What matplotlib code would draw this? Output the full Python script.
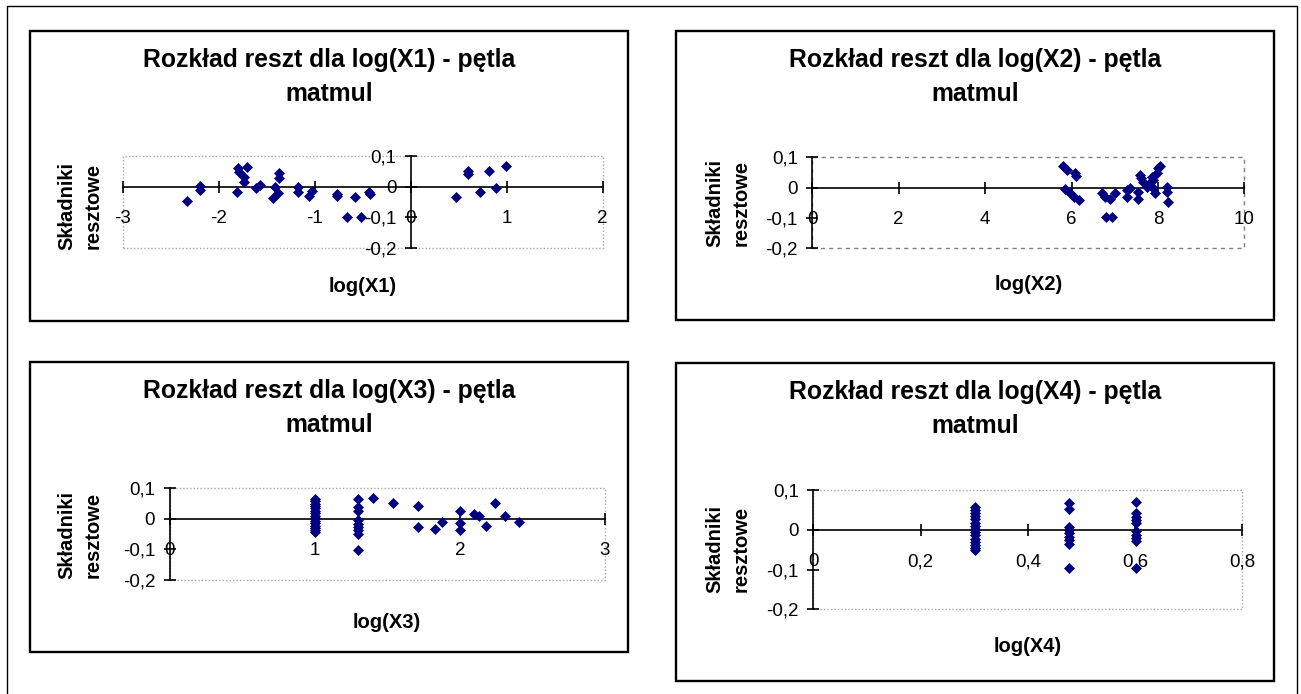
"""Residual plots for log(X1)..log(X4) of the matmul loop - four Excel-style panels."""
import matplotlib

matplotlib.use("Agg")
import matplotlib.pyplot as plt
from matplotlib.lines import Line2D
from matplotlib.patches import Rectangle
from matplotlib.ticker import FixedLocator, FuncFormatter

plt.rcParams["font.family"] = ["Liberation Sans", "DejaVu Sans"]

W, H = 1301, 694
NAVY = "#000080"

# --- data ------------------------------------------------------------------
log_x1 = [-2.33, -2.19, -2.19, -1.80, -1.71, -1.74, -1.74, -1.79, -1.81, -1.61,
          -1.57, -1.37, -1.37, -1.41, -1.38, -1.43, -1.17, -1.17, -1.06, -1.03,
          -0.77, -0.77, -0.58, -0.43, -0.42, -0.66, -0.52, 0.475, 0.60, 0.60,
          0.72, 0.82, 0.89, 0.995]
res_x1 = [-0.046, 0.003, -0.011, 0.059, 0.065, 0.032, 0.016, 0.048, -0.018, -0.005,
          0.005, 0.043, 0.027, 0.0, -0.020, -0.038, 0.0, -0.018, -0.032, -0.013,
          -0.024, -0.032, -0.034, -0.018, -0.024, -0.099, -0.099, -0.035, 0.050, 0.040,
          -0.019, 0.050, -0.005, 0.067]

log_x2 = [5.80, 5.90, 6.08, 6.10, 5.85, 5.96, 6.06, 6.18, 6.70, 6.77,
          6.89, 7.01, 6.81, 6.93, 7.28, 7.28, 7.35, 7.55, 7.55, 7.59,
          7.62, 7.66, 7.74, 7.82, 7.86, 7.89, 7.93, 7.97, 8.01, 8.05,
          7.89, 8.20, 8.22, 8.24]
res_x2 = [0.071, 0.058, 0.047, 0.038, -0.005, -0.019, -0.030, -0.041, -0.019, -0.030,
          -0.038, -0.019, -0.096, -0.096, -0.008, -0.030, -0.002, -0.038, -0.013, 0.042,
          0.031, 0.020, 0.003, 0.014, 0.036, 0.025, -0.019, 0.047, 0.064, 0.071,
          -0.002, 0.003, -0.013, -0.046]

log_x3 = [1.0, 1.0, 1.0, 1.0, 1.0, 1.0, 1.0, 1.0, 1.0, 1.0, 1.0, 1.0, 1.0, 1.0, 1.0,
          1.30, 1.30, 1.30, 1.30, 1.30, 1.30, 1.30, 1.30, 1.30,
          1.40, 1.54, 1.71, 1.71, 1.83, 1.88, 2.00, 2.00, 2.00, 2.10,
          2.13, 2.18, 2.24, 2.31, 2.41]
res_x3 = [0.066, 0.058, 0.050, 0.042, 0.034, 0.026, 0.018, 0.010, 0.002, -0.006,
          -0.014, -0.022, -0.030, -0.038, -0.044,
          0.065, 0.038, 0.025, -0.005, -0.016, -0.027, -0.038, -0.049, -0.101,
          0.068, 0.052, 0.042, -0.027, -0.033, -0.011, 0.027, -0.014, -0.035, 0.016,
          0.008, -0.022, 0.052, 0.011, -0.011]

log_x4 = [0.301, 0.301, 0.301, 0.301, 0.301, 0.301, 0.301, 0.301, 0.301, 0.301,
          0.301, 0.301, 0.301, 0.301, 0.301,
          0.477, 0.477, 0.477, 0.477, 0.477, 0.477, 0.477, 0.477, 0.477,
          0.602, 0.602, 0.602, 0.602, 0.602, 0.602, 0.602, 0.602, 0.602, 0.602]
res_x4 = [0.058, 0.050, 0.042, 0.034, 0.026, 0.018, 0.010, 0.002, -0.006, -0.014,
          -0.022, -0.030, -0.038, -0.045, -0.050,
          0.067, 0.052, 0.008, 0.0, -0.008, -0.017, -0.025, -0.035, -0.096,
          0.069, 0.042, 0.033, 0.025, 0.017, -0.004, -0.013, -0.021, -0.029, -0.096]

xticks = [
    [-3, -2, -1, 0, 1, 2],
    [0, 2, 4, 6, 8, 10],
    [0, 1, 2, 3],
    [0, 0.2, 0.4, 0.6, 0.8],
]
res_ticks = [-0.2, -0.1, 0, 0.1]

titles = [f"Rozkład reszt dla log(X{i}) - pętla\nmatmul" for i in range(1, 5)]
xlabels = [f"log(X{i})" for i in range(1, 5)]
ylabel = "Składniki\nresztowe"

# --- layout, in pixels with y measured from the top ---------------------------
panel_boxes = [(30, 31, 628, 321), (676, 31, 1274, 320),
               (30, 362, 628, 652), (676, 363, 1274, 681)]
plot_boxes = [(122.7, 155.7, 602.7, 248.3), (812.3, 157.3, 1244.3, 248.3),
              (169.5, 488.3, 605.0, 580.0), (813.3, 490.0, 1242.3, 609.3)]
xlabel_y = [286, 285, 622, 647]
ylabel_xy = [(80, 206), (728, 203), (80, 535), (728, 549)]
border_ls = [(0, (1, 1.5)), (0, (3, 3)), (0, (1, 1.5)), (0, (1, 1.5))]
border_col = ["#a8a8a8", "#808080", "#a8a8a8", "#a8a8a8"]


def comma(v, pos=None):
    if abs(v) < 1e-9:
        return "0"
    return f"{round(v, 2):g}".replace(".", ",")


def fig_rect(l, t, r, b):
    return [l / W, 1 - b / H, (r - l) / W, (b - t) / H]


def draw_panel(fig, i, xs, ys):
    pl, pt, pr, pb = panel_boxes[i]
    fig.add_artist(Rectangle((pl / W, 1 - pb / H), (pr - pl) / W, (pb - pt) / H,
                             transform=fig.transFigure, fill=False,
                             ec="black", lw=1.7))

    ax = fig.add_axes(fig_rect(*plot_boxes[i]))
    ax.patch.set_visible(False)
    ax.add_patch(Rectangle((0, 0), 1, 1, transform=ax.transAxes, fill=False,
                           ec=border_col[i], lw=1.0, ls=border_ls[i],
                           clip_on=False, zorder=0))
    ax.plot(xs, ys, "D", ms=5.5, color=NAVY, mec=NAVY, mew=0.5,
            clip_on=False, zorder=3)

    ticks = xticks[i]
    ax.set_xlim(ticks[0], ticks[-1])
    ax.set_ylim(res_ticks[0], res_ticks[-1])

    for side in ("top", "right"):
        ax.spines[side].set_visible(False)
    ax.spines["left"].set_position(("data", 0))
    ax.spines["bottom"].set_position(("data", 0))
    for side in ("left", "bottom"):
        ax.spines[side].set_linewidth(1.2)

    ax.xaxis.set_major_locator(FixedLocator(ticks))
    ax.yaxis.set_major_locator(FixedLocator(res_ticks))
    ax.xaxis.set_major_formatter(FuncFormatter(comma))
    ax.yaxis.set_major_formatter(FuncFormatter(comma))
    ax.tick_params(axis="both", direction="inout", length=8.6, width=1.2,
                   labelsize=13.5, colors="black")
    ax.tick_params(axis="x", pad=12.5)
    ax.tick_params(axis="y", pad=6)

    fig.text((pl + pr) / 2 / W, 1 - (pt + 46) / H, titles[i], ha="center",
             va="center", fontsize=17.8, fontweight="bold", linespacing=1.5)
    l, t, r, b = plot_boxes[i]
    fig.text((l + r) / 2 / W, 1 - xlabel_y[i] / H, xlabels[i], ha="center",
             va="center", fontsize=14.5, fontweight="bold")
    yx, yy = ylabel_xy[i]
    fig.text(yx / W, 1 - yy / H, ylabel, ha="center", va="center",
             rotation=90, multialignment="center", fontsize=14.5,
             fontweight="bold", linespacing=1.5)
    return ax


fig = plt.figure(figsize=(W / 100, H / 100), dpi=100)
fig.patch.set_facecolor("white")

# thin outer frame (bottom edge runs off the picture)
fig.add_artist(Line2D([7 / W, 7 / W, 1297 / W, 1297 / W],
                      [0, 1 - 6 / H, 1 - 6 / H, 0],
                      transform=fig.transFigure, color="black", lw=1.0))

series = [(log_x1, res_x1), (log_x2, res_x2), (log_x3, res_x3), (log_x4, res_x4)]
for i, (xs, ys) in enumerate(series):
    draw_panel(fig, i, xs, ys)

fig.savefig("out.png", dpi=100)
plt.close(fig)
